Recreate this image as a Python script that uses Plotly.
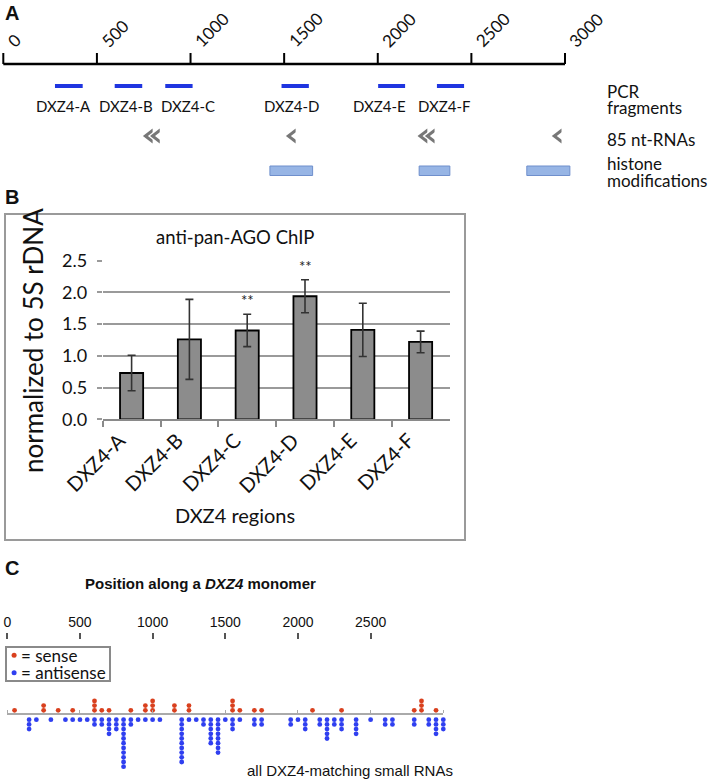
import math
import plotly.graph_objects as go

W, H = 711, 784

# ---------------- Panel A data ----------------
ruler_ticks = [0, 500, 1000, 1500, 2000, 2500, 3000]
pcr_names = ["DXZ4-A", "DXZ4-B", "DXZ4-C", "DXZ4-D", "DXZ4-E", "DXZ4-F"]
pcr_start = [276, 595, 865, 1486, 2002, 2316]
pcr_end = [424, 742, 1011, 1632, 2146, 2461]
rna85_pos = [740, 778, 1504, 2207, 2246, 2924]   # arrow tips (pointing left)
histone_start = [1424, 2221, 2796]
histone_end = [1652, 2385, 3026]

# ---------------- Panel B data ----------------
regions = ["DXZ4-A", "DXZ4-B", "DXZ4-C", "DXZ4-D", "DXZ4-E", "DXZ4-F"]
ago_mean = [0.73, 1.26, 1.40, 1.94, 1.41, 1.22]
ago_err = [0.28, 0.63, 0.255, 0.26, 0.42, 0.17]
ago_sig = ["", "", "**", "**", "", ""]
ago_ticks = [0.0, 0.5, 1.0, 1.5, 2.0, 2.5]

# ---------------- Panel C data ----------------
sense_pos = [50, 250, 350, 450, 600, 650, 700, 850, 950, 1000, 1150, 1250,
             1550, 1600, 1700, 1750, 2100, 2300, 2800, 2850, 2950]
sense_count = [1, 2, 1, 1, 3, 1, 1, 1, 2, 3, 2, 2, 3, 1, 1, 1, 1, 1, 1, 3, 1]
anti_pos = [150, 200, 300, 400, 450, 500, 550, 600, 650, 700, 750, 800, 850,
            900, 950, 1000, 1050, 1200, 1250, 1300, 1350, 1400, 1450, 1500,
            1550, 1600, 1700, 1750, 1950, 2000, 2050, 2150, 2200, 2250, 2300,
            2400, 2500, 2600, 2650, 2800, 2900, 2950, 3000]
anti_count = [3, 1, 1, 1, 1, 1, 1, 2, 2, 4, 3, 11, 2, 1, 1, 1, 1, 10, 1, 1,
              2, 6, 8, 1, 3, 1, 2, 2, 2, 1, 3, 2, 5, 2, 3, 4, 1, 2, 2, 2, 2, 4, 3]
pos_ticks = [0, 500, 1000, 1500, 2000, 2500]
baseline_ticks = [0, 500, 1000, 1500, 2000, 2500, 3000]

# ---------------- helpers ----------------
def fx(p):
    return p / W

def fy(p):
    return 1 - p / H

CAL = "Lato, 'Open Sans', sans-serif"
ARI = "'Liberation Sans', Arial, sans-serif"
RED = "#d9401e"
BLUE = "#2f3ff0"

def ann(x, y, text, size, family=CAL, xanchor="center", yanchor="middle", **kw):
    d = dict(x=fx(x), y=fy(y), xref="paper", yref="paper", text=text, showarrow=False,
             xanchor=xanchor, yanchor=yanchor,
             font=dict(family=family, size=size, color="#111"))
    d.update(kw)
    return d

fig = go.Figure()
annotations = []
shapes = []

# ---------- Panel A ----------
A_scale = (565 - 3.3) / 3000.0          # px per bp
A_range = [-15, 3100]
A_dom = [fx(3.3 - 15 * A_scale), fx(3.3 + 3100 * A_scale)]

# ruler line + ticks
tx, ty = [], []
for t in ruler_ticks:
    tx += [t, t, None]
    ty += [53, 64, None]
fig.add_trace(go.Scatter(x=tx, y=ty, mode="lines", line=dict(color="black", width=2),
                         xaxis="x", yaxis="y", hoverinfo="skip"))
shapes.append(dict(type="line", xref="x", yref="y", x0=0, x1=3000,
                   y0=64, y1=64, line=dict(color="black", width=2.5)))
for t in ruler_ticks:
    annotations.append(dict(x=t, y=fy(54), xref="x", yref="paper", text=str(t),
                            textangle=-45, xanchor="left", yanchor="bottom", xshift=-3,
                            showarrow=False, font=dict(family=CAL, size=17, color="#111")))

xs, ys = [], []
for s, e in zip(pcr_start, pcr_end):
    xs += [s, e, None]
    ys += [86, 86, None]
fig.add_trace(go.Scatter(x=xs, y=ys, mode="lines", line=dict(color="#1f35e0", width=4),
                         xaxis="x", yaxis="y", hoverinfo="skip"))

# 85-nt RNA arrowheads: grey triangle with a white notch
ARW = 13.0
rt = ARW / math.sqrt(3)
notch = 5.0
for p in rna85_pos:
    cx = p + rt / A_scale
    fig.add_trace(go.Scatter(x=[cx], y=[136], mode="markers",
                             marker=dict(symbol="triangle-left", size=ARW, color="#777777",
                                         line=dict(width=0)),
                             xaxis="x", yaxis="y", hoverinfo="skip", cliponaxis=False))
    fig.add_trace(go.Scatter(x=[cx + notch / A_scale], y=[136], mode="markers",
                             marker=dict(symbol="triangle-left", size=ARW, color="white",
                                         line=dict(width=0)),
                             xaxis="x", yaxis="y", hoverinfo="skip", cliponaxis=False))

for s, e in zip(histone_start, histone_end):
    shapes.append(dict(type="rect", xref="x", yref="y", x0=s, x1=e, y0=166, y1=175.5,
                       fillcolor="#97b5e5", line=dict(color="#6f8fcc", width=1)))

label_shift = [-5, -2, 9, -4, -12, -6]
for n, s, e, sh in zip(pcr_names, pcr_start, pcr_end, label_shift):
    annotations.append(dict(x=(s + e) / 2, y=106, xref="x", yref="y", text=n,
                            xanchor="center", yanchor="middle",
                            showarrow=False, xshift=sh, font=dict(family=CAL, size=15, color="#111")))

for txt, yy in [("PCR", 92), ("fragments", 107.5), ("85 nt-RNAs", 139),
                ("histone", 164), ("modifications", 180.5)]:
    annotations.append(ann(605, yy, txt, 17, xanchor="left"))

# ---------- Panel B ----------
fig.add_trace(go.Bar(x=regions, y=ago_mean, width=0.4,
                     marker=dict(color="#8c8c8c", line=dict(color="black", width=1.8)),
                     error_y=dict(type="data", array=ago_err, color="#333333",
                                  thickness=1.6, width=4),
                     xaxis="x2", yaxis="y2", hoverinfo="skip"))
for r, m, e, s in zip(regions, ago_mean, ago_err, ago_sig):
    if s:
        annotations.append(dict(x=r, y=m + e, xref="x2", yref="y2", text=s, yshift=14,
                                xanchor="center", yanchor="middle",
                                showarrow=False, font=dict(family=CAL, size=15, color="#222")))

annotations.append(ann(235, 237, "anti-pan-AGO ChIP", 18.5))
annotations.append(ann(235, 515, "DXZ4 regions", 20))
annotations.append(ann(33, 341, "normalized to 5S rDNA", 26, textangle=-90))
shapes.append(dict(type="rect", xref="paper", yref="paper", x0=fx(5), x1=fx(465),
                   y0=fy(540), y1=fy(214), line=dict(color="#9a9a9a", width=2)))

# ---------- Panel C ----------
C_unit = 4.7
C_top, C_bot, C_base = 690, 778, 715
C_yrange = [-(C_bot - C_base) / C_unit, (C_base - C_top) / C_unit]

sx, sy = [], []
for p, c in zip(sense_pos, sense_count):
    for k in range(1, c + 1):
        sx.append(p)
        sy.append(k)
bx, by = [], []
for p, c in zip(anti_pos, anti_count):
    for k in range(1, c + 1):
        bx.append(p)
        by.append(-k)

fig.add_trace(go.Scatter(x=[0, 3000], y=[0, 0], mode="markers", marker=dict(opacity=0),
                         xaxis="x4", yaxis="y4", hoverinfo="skip"))
fig.add_trace(go.Scatter(x=[0, 3000], y=[0, 0], mode="markers", marker=dict(opacity=0),
                         xaxis="x5", yaxis="y5", hoverinfo="skip"))
fig.add_trace(go.Scatter(x=sx, y=sy, mode="markers",
                         marker=dict(color=RED, size=4.8, line=dict(width=0)),
                         xaxis="x3", yaxis="y3", hoverinfo="skip", cliponaxis=False))
fig.add_trace(go.Scatter(x=bx, y=by, mode="markers",
                         marker=dict(color=BLUE, size=4.8, line=dict(width=0)),
                         xaxis="x3", yaxis="y3", hoverinfo="skip", cliponaxis=False))

shapes.append(dict(type="rect", xref="paper", yref="paper", x0=fx(6), x1=fx(110),
                   y0=fy(681), y1=fy(647), line=dict(color="#8a8a8a", width=2)))
shapes.append(dict(type="circle", xref="paper", yref="paper", x0=fx(11.6), x1=fx(16.6),
                   y0=fy(657.8), y1=fy(652.8), fillcolor=RED, line=dict(width=0)))
shapes.append(dict(type="circle", xref="paper", yref="paper", x0=fx(11.6), x1=fx(16.6),
                   y0=fy(675.2), y1=fy(670.2), fillcolor=BLUE, line=dict(width=0)))
annotations.append(ann(19, 655, "= sense", 17, xanchor="left"))
annotations.append(ann(19, 672, "= antisense", 17, xanchor="left"))
annotations.append(ann(200, 583, "<b>Position along a <i>DXZ4</i> monomer</b>", 15, family=ARI))
annotations.append(ann(350, 770, "all DXZ4-matching small RNAs", 15, family=ARI))

# ---------- panel letters ----------
for L, yy in [("A", 13), ("B", 197), ("C", 568)]:
    annotations.append(ann(3, yy, "<b>%s</b>" % L, 20, family=ARI, xanchor="left"))

fig.update_layout(
    width=W, height=H, margin=dict(l=0, r=0, t=0, b=0, autoexpand=False),
    paper_bgcolor="white", plot_bgcolor="white", showlegend=False,
    shapes=shapes, annotations=annotations,
    xaxis=dict(domain=A_dom, range=A_range, anchor="y", visible=False),
    yaxis=dict(domain=[fy(195), fy(50)], range=[195, 50], visible=False, anchor="x"),
    xaxis2=dict(domain=[fx(102.7), fx(449.5)], anchor="y2", type="category",
                showline=True, linecolor="#8a8a8a", linewidth=1.5, ticks="outside",
                tickson="boundaries", ticklen=6, tickcolor="#8a8a8a", tickwidth=1.5,
                tickangle=-45, showgrid=False, ticklabelshift=-12,
                tickfont=dict(family=CAL, size=20, color="#111")),
    yaxis2=dict(domain=[fy(419.3), fy(260.7)], anchor="x2", range=[0, 2.5],
                tickvals=ago_ticks, tickformat=".1f", showgrid=True, gridcolor="#9a9a9a",
                gridwidth=1.5, zeroline=False, showline=False, ticks="outside", ticklen=5,
                tickcolor="#9a9a9a", tickwidth=1.5, ticklabelstandoff=6,
                tickfont=dict(family=CAL, size=18, color="#111")),
    xaxis3=dict(domain=[fx(7.3), fx(443.3)], range=[0, 3000], anchor="y3",
                visible=False),
    yaxis3=dict(domain=[fy(C_bot), fy(C_top)], range=C_yrange, visible=False, anchor="x3"),
    xaxis4=dict(domain=[fx(7.3 - 0.145), fx(443.3)], range=[-1, 3000], side="top", anchor="y4",
                showline=False, showgrid=False, zeroline=False,
                ticks="outside", ticklen=6, tickwidth=1.5, tickcolor="#555",
                tickvals=pos_ticks, tickfont=dict(family=ARI, size=14, color="#111")),
    yaxis4=dict(domain=[fy(642), fy(639.5)], range=[0, 1], visible=False, anchor="x4"),
    xaxis5=dict(domain=[fx(7.3 - 0.145), fx(443.3 + 0.145)], range=[-1, 3001], side="top",
                anchor="y5", showline=True, linecolor="#aaaaaa", linewidth=1.5,
                showgrid=False, zeroline=False, ticks="outside", ticklen=3,
                tickcolor="#aaaaaa", tickwidth=1.2, tickvals=baseline_ticks,
                showticklabels=False),
    yaxis5=dict(domain=[fy(716), fy(715)], range=[0, 1], visible=False, anchor="x5"),
)

fig.write_html("out.html", config={"displayModeBar": False},
               post_script="document.body.style.margin='0';")
